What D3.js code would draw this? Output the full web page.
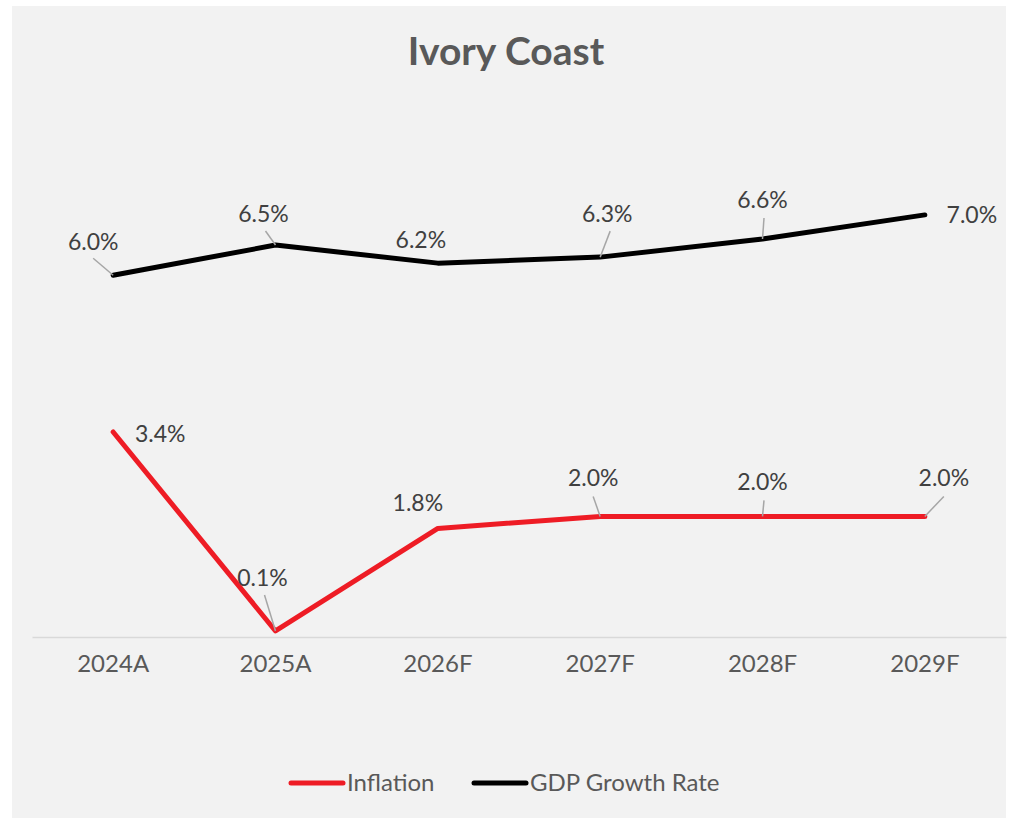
<!DOCTYPE html>
<html>
<head>
<meta charset="utf-8">
<script src="https://cdn.jsdelivr.net/npm/d3@7"></script>
<style>
  html, body { margin: 0; padding: 0; background: #ffffff; }
  svg { display: block; }
  text { font-family: Lato, "Open Sans", sans-serif; }
</style>
</head>
<body>
<svg id="chart" width="1011" height="819"></svg>
<script>
// Ivory Coast: inflation vs. GDP growth, actuals and forecasts (%)
const categories = ["2024A", "2025A", "2026F", "2027F", "2028F", "2029F"];
const inflation = [3.4, 0.1, 1.8, 2.0, 2.0, 2.0];
const gdpGrowth = [6.0, 6.5, 6.2, 6.3, 6.6, 7.0];
const seriesNames = ["Inflation", "GDP Growth Rate"];

// Label placement per point: text offset [dx, dy] and optional leader start offset
const inflationLabelPos = [
  { t: [47, 10], l: null },
  { t: [-13, -45], l: [-11, -36] },
  { t: [-20, -17], l: null },
  { t: [-7, -30], l: [-7, -20] },
  { t: [0, -26], l: [1.5, -16] },
  { t: [19, -30], l: [19, -20] }
];
const gdpLabelPos = [
  { t: [-20, -25], l: [-20, -17] },
  { t: [-12, -23], l: [-10, -14] },
  { t: [-17, -15], l: null },
  { t: [7, -35], l: [10, -26] },
  { t: [0, -31], l: [1.5, -21] },
  { t: [47, 8], l: null }
];

const colors = { inflation: "#ee1c25", gdp: "#000000" };

const svg = d3.select("#chart");

// panel background
svg.append("rect")
  .attr("x", 12).attr("y", 6)
  .attr("width", 994).attr("height", 812)
  .attr("fill", "#f2f2f2");

// title
svg.append("text")
  .attr("x", 506).attr("y", 65)
  .attr("text-anchor", "middle")
  .attr("font-size", 39)
  .attr("font-weight", 700)
  .attr("fill", "#595959")
  .text("Ivory Coast");

const x = d3.scaleBand().domain(categories).range([32, 1006]);
const y = d3.scaleLinear().domain([0, 10]).range([637, 34]);
const cx = d => x(d) + x.bandwidth() / 2;

// category axis
const axis = svg.append("g")
  .attr("transform", `translate(0,${y(0)})`)
  .call(d3.axisBottom(x).tickSize(0).tickPadding(18));
axis.select(".domain").attr("stroke", "#d9d9d9").attr("stroke-width", 1.5);
axis.selectAll("text")
  .attr("font-size", 24)
  .attr("fill", "#595959")
  .attr("font-family", "Lato, 'Open Sans', sans-serif");

const line = d3.line()
  .x((d, i) => cx(categories[i]))
  .y(d => y(d));

function drawSeries(values, color, labelPos) {
  svg.append("path")
    .datum(values)
    .attr("d", line)
    .attr("fill", "none")
    .attr("stroke", color)
    .attr("stroke-width", 5)
    .attr("stroke-linejoin", "round")
    .attr("stroke-linecap", "round");

  const g = svg.append("g");
  values.forEach((v, i) => {
    const px = cx(categories[i]);
    const py = y(v);
    const p = labelPos[i];
    if (p.l) {
      g.append("line")
        .attr("x1", px + p.l[0]).attr("y1", py + p.l[1])
        .attr("x2", px).attr("y2", py)
        .attr("stroke", "#a6a6a6")
        .attr("stroke-width", 1.5);
    }
    g.append("text")
      .attr("x", px + p.t[0]).attr("y", py + p.t[1])
      .attr("text-anchor", "middle")
      .attr("font-size", 23)
      .attr("fill", "#404040")
      .text(d3.format(".1f")(v) + "%");
  });
}

drawSeries(gdpGrowth, colors.gdp, gdpLabelPos);
drawSeries(inflation, colors.inflation, inflationLabelPos);

// legend
const legend = svg.append("g");
const legendItems = [
  { name: seriesNames[0], color: colors.inflation, x0: 291 },
  { name: seriesNames[1], color: colors.gdp, x0: 474 }
];
legendItems.forEach(it => {
  legend.append("line")
    .attr("x1", it.x0).attr("x2", it.x0 + 52)
    .attr("y1", 783).attr("y2", 783)
    .attr("stroke", it.color)
    .attr("stroke-width", 5)
    .attr("stroke-linecap", "round");
  legend.append("text")
    .attr("x", it.x0 + 56).attr("y", 791)
    .attr("font-size", 24)
    .attr("fill", "#595959")
    .text(it.name);
});
</script>
</body>
</html>
